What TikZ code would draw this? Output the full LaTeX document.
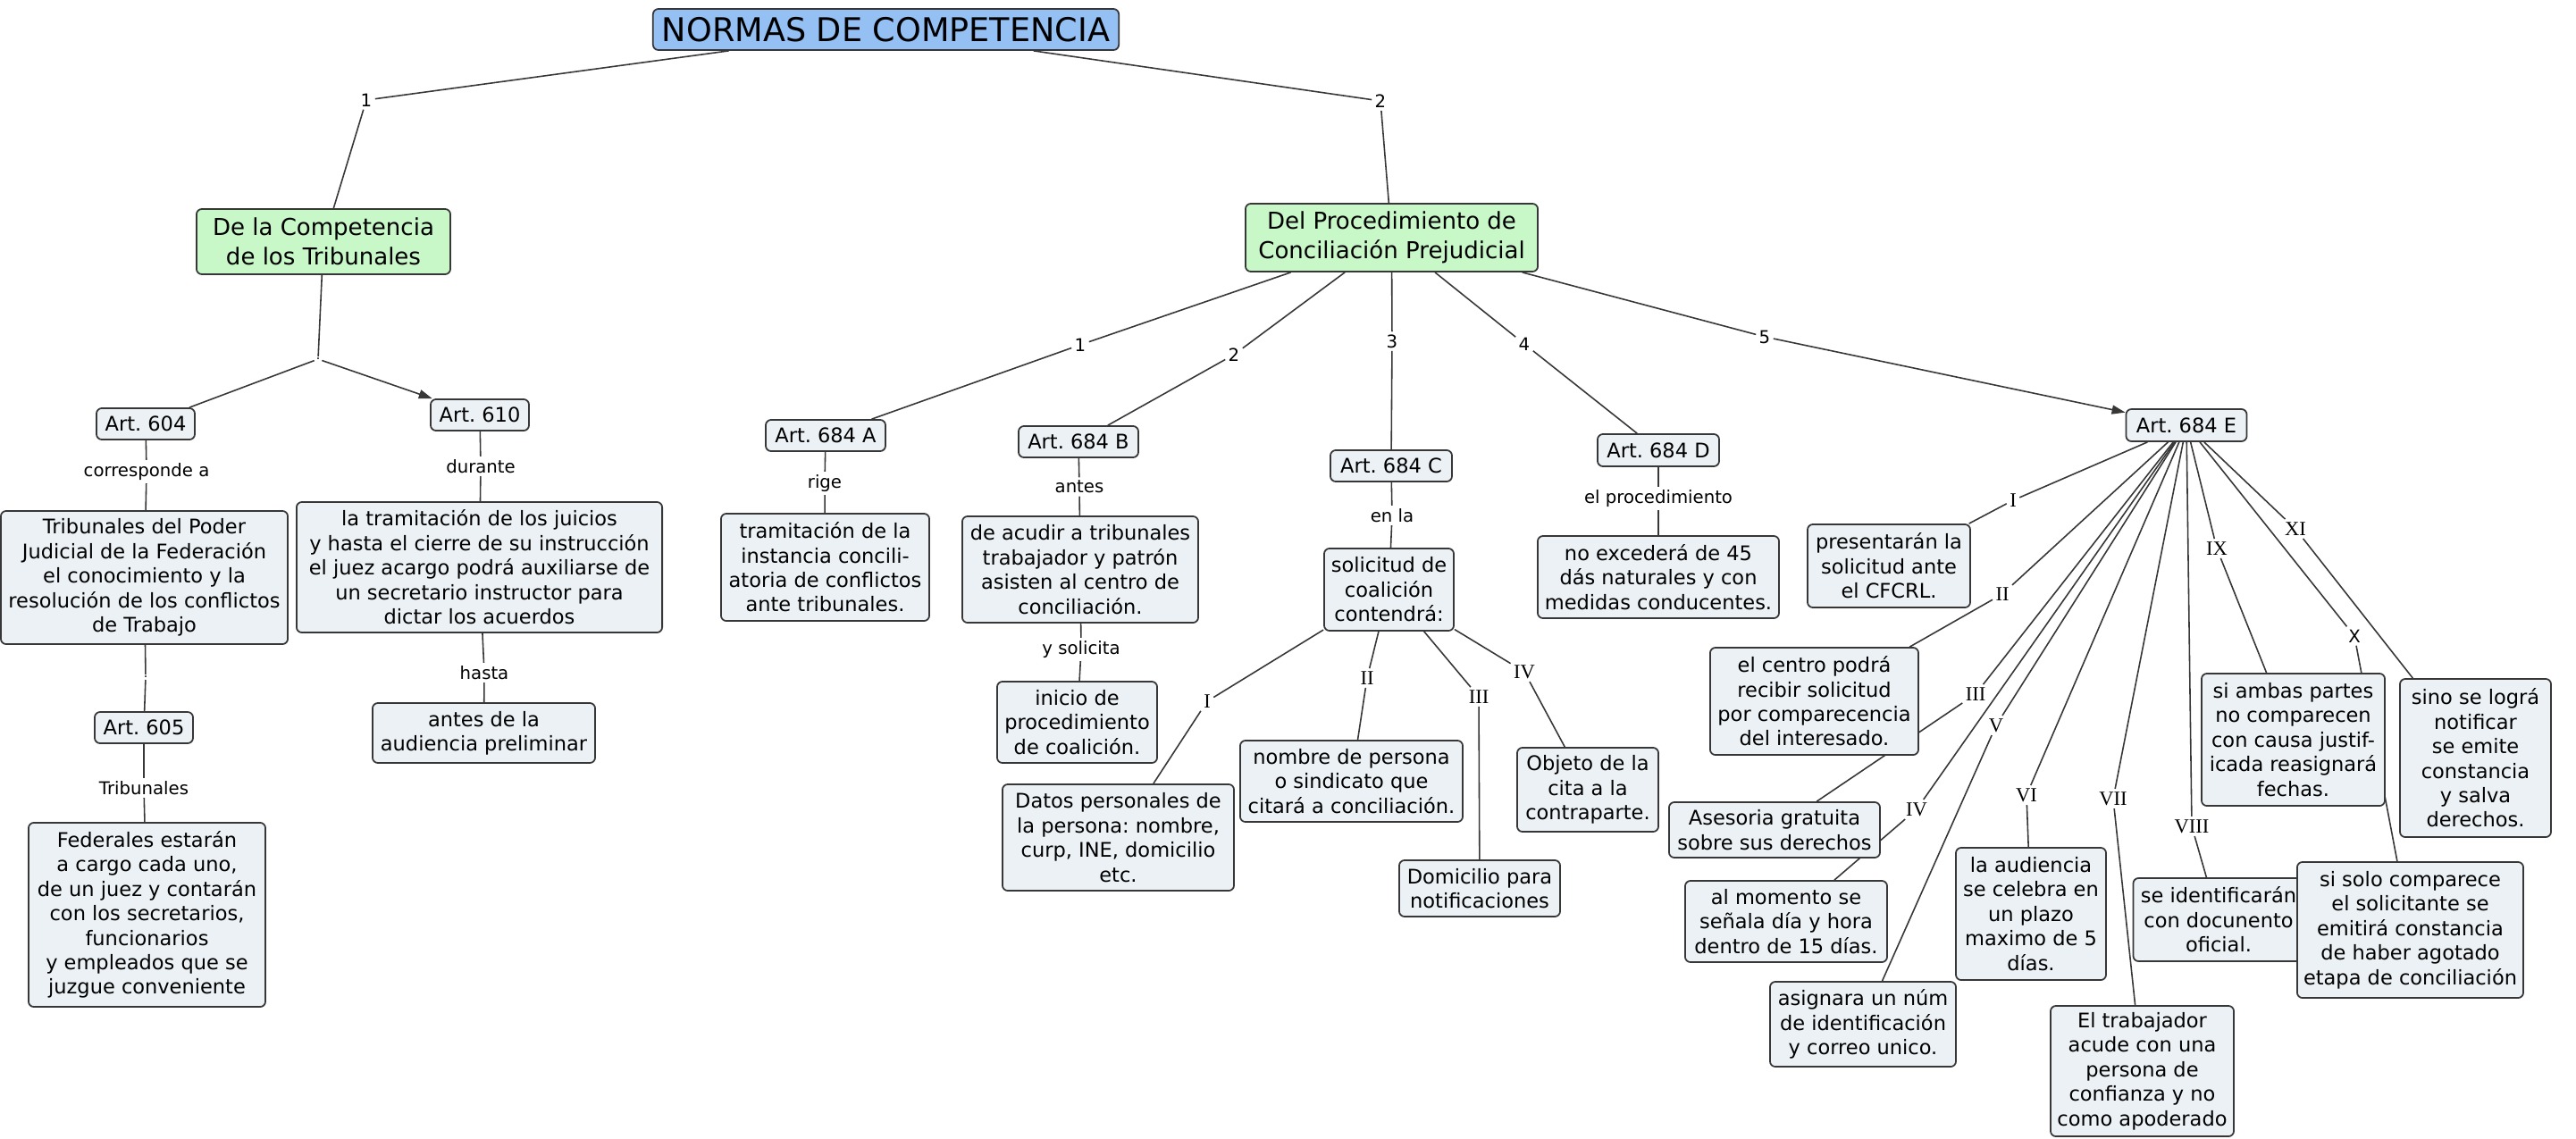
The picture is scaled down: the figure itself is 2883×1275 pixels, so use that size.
\documentclass[tikz,border=0pt]{standalone}
\usepackage{fontspec}
\setmainfont{DejaVu Sans}
\newfontfamily\romfont{Liberation Serif}
\usepackage{tikz}
\usetikzlibrary{arrows.meta}
\frenchspacing

\pgfdeclarelayer{bg}
\pgfsetlayers{bg,main}

\definecolor{cbox}{RGB}{235,241,244}
\definecolor{ctitle}{RGB}{148,192,244}
\definecolor{cgreen}{RGB}{200,247,200}
\definecolor{cline}{RGB}{55,55,55}

\tikzset{
  box/.style={draw=cline, fill=cbox, rounded corners=0.06cm, line width=0.5pt,
    align=center, inner sep=1pt, font=\fontsize{6.4}{7.8}\selectfont},
  titlebox/.style={box, fill=ctitle, font=\fontsize{10.4}{12}\selectfont},
  greenbox/.style={box, fill=cgreen, font=\fontsize{7.4}{9.4}\selectfont},
  sz/.style 2 args={minimum width=#1cm, minimum height=#2cm},
  lbl/.style={inner sep=0.8pt, font=\fontsize{5.6}{6.8}\selectfont},
  rom/.style={inner sep=0.8pt, font=\romfont\fontsize{6.4}{7}\selectfont},
  jlbl/.style={inner sep=0.4pt, font=\fontsize{4}{4}\selectfont},
  link/.style={draw=cline, line width=0.45pt},
  arr/.style={-{Triangle[length=0.15cm,width=0.1cm]}}
}

\begin{document}
\begin{tikzpicture}[x=0.01cm, y=-0.01cm]
    \useasboundingbox (0,0) rectangle (2883,1275);

    % main concepts
    \node[titlebox, sz={5.21}{0.46}] (norm) at (991.5,33) {NORMAS DE COMPETENCIA};
    \node[greenbox, sz={2.84}{0.73}] (comp) at (362,270.5) {De la Competencia\\de los Tribunales};
    \node[greenbox, sz={3.27}{0.76}] (proc) at (1557.5,266) {Del Procedimiento de\\Conciliación Prejudicial};

    % left branch
    \node[box, sz={1.10}{0.35}] (a604) at (163,474.5) {Art. 604};
    \node[box, sz={1.10}{0.35}] (a610) at (537,464.5) {Art. 610};
    \node[box, sz={3.21}{1.49}] (trib) at (161.5,646.5) {Tribunales del Poder\\Judicial de la Federación\\el conocimiento y la\\resolución de los conflictos\\de Trabajo};
    \node[box, sz={1.10}{0.35}] (a605) at (161,814.5) {Art. 605};
    \node[box, sz={2.65}{2.06}] (fed) at (164.5,1024) {Federales estarán\\a cargo cada uno,\\de un juez y contarán\\con los secretarios,\\funcionarios\\y empleados que se\\juzgue conveniente};
    \node[box, sz={4.09}{1.46}] (juic) at (536.5,635) {la tramitación de los juicios\\y hasta el cierre de su instrucción\\el juez acargo podrá auxiliarse de\\un secretario instructor para\\dictar los acuerdos};
    \node[box, sz={2.49}{0.67}] (prel) at (541.5,820.5) {antes de la\\audiencia preliminar};

    % right branch
    \node[box, sz={1.34}{0.35}] (a684a) at (924,487.5) {Art. 684 A};
    \node[box, sz={2.33}{1.20}] (inst) at (923.5,635) {tramitación de la\\instancia concili-\\atoria de conflictos\\ante tribunales.};
    \node[box, sz={1.34}{0.35}] (a684b) at (1207,494.5) {Art. 684 B};
    \node[box, sz={2.64}{1.19}] (acud) at (1209,637.5) {de acudir a tribunales\\trabajador y patrón\\asisten al centro de\\conciliación.};
    \node[box, sz={1.79}{0.91}] (inic) at (1205.5,808.5) {inicio de\\procedimiento\\de coalición.};
    \node[box, sz={1.36}{0.35}] (a684c) at (1557,521.5) {Art. 684 C};
    \node[box, sz={1.45}{0.92}] (soli) at (1554.5,660) {solicitud de\\coalición\\contendrá:};
    \node[box, sz={2.59}{1.19}] (dato) at (1251.5,937.5) {Datos personales de\\la persona: nombre,\\curp, INE, domicilio\\etc.};
    \node[box, sz={2.49}{0.91}] (nomb) at (1512.5,874.5) {nombre de persona\\o sindicato que\\citará a conciliación.};
    \node[box, sz={1.80}{0.63}] (domi) at (1656,994.5) {Domicilio para\\notificaciones};
    \node[box, sz={1.58}{0.94}] (obje) at (1777,884) {Objeto de la\\cita a la\\contraparte.};
    \node[box, sz={1.36}{0.36}] (a684d) at (1856,504) {Art. 684 D};
    \node[box, sz={2.70}{0.92}] (plaz) at (1856,646) {no excederá de 45\\dás naturales y con\\medidas conducentes.};
    \node[box, sz={1.35}{0.36}] (a684e) at (2447,476) {Art. 684 E};
    \node[box, sz={1.82}{0.93}] (pres) at (2114,633.5) {presentarán la\\solicitud ante\\el CFCRL.};
    \node[box, sz={2.33}{1.20}] (cent) at (2030.5,785) {el centro podrá\\recibir solicitud\\por comparecencia\\del interesado.};
    \node[box, sz={2.36}{0.62}] (ases) at (1986,929) {Asesoria gratuita\\sobre sus derechos};
    \node[box, sz={2.26}{0.91}] (mome) at (1999,1031.5) {al momento se\\señala día y hora\\dentro de 15 días.};
    \node[box, sz={2.08}{0.95}] (asig) at (2085,1146.5) {asignara un núm\\de identificación\\y correo unico.};
    \node[box, sz={1.68}{1.48}] (audi) at (2273,1023) {la audiencia\\se celebra en\\un plazo\\maximo de 5\\días.};
    \node[box, sz={2.05}{1.46}] (trab) at (2397.5,1199) {El trabajador\\acude con una\\persona de\\confianza y no\\como apoderado};
    \node[box, sz={1.91}{0.93}] (iden) at (2483,1029.5) {se identificarán\\con docunento\\oficial.};
    \node[box, sz={2.05}{1.48}] (amba) at (2566.5,828) {si ambas partes\\no comparecen\\con causa justif-\\icada reasignará\\fechas.};
    \node[box, sz={2.53}{1.52}] (solo) at (2697.5,1041) {si solo comparece\\el solicitante se\\emitirá constancia\\de haber agotado\\etapa de conciliación};
    \node[box, sz={1.69}{1.77}] (sino) at (2770.5,848.5) {sino se lográ\\notificar\\se emite\\constancia\\y salva\\derechos.};

    % link phrases
    \node[lbl] (l1) at (410,112) {1};
    \node[lbl] (l2) at (1545,113) {2};
    \node[jlbl] (j1) at (356,402) {.};
    \node[lbl] (corr) at (164,528) {corresponde a};
    \node[jlbl] (j2) at (163,758) {.};
    \node[lbl] (trl) at (161,882) {Tribunales};
    \node[lbl] (dura) at (538,522) {durante};
    \node[lbl] (hast) at (542,753) {hasta};
    \node[lbl] (p1) at (1209,386) {1};
    \node[lbl] (p2) at (1381,397) {2};
    \node[lbl] (p3) at (1558,382) {3};
    \node[lbl] (p4) at (1706,385) {4};
    \node[lbl] (p5) at (1975,377) {5};
    \node[lbl] (rige) at (923,541) {rige};
    \node[lbl] (ante) at (1208,545) {antes};
    \node[lbl] (ysol) at (1210,727) {y solicita};
    \node[lbl] (enla) at (1558,577) {en la};
    \node[lbl] (elpr) at (1856,558) {el procedimiento};
    \node[rom] (c1) at (1351,785) {I};
    \node[rom] (c2) at (1530,759) {II};
    \node[rom] (c3) at (1655,780) {III};
    \node[rom] (c4) at (1706,752) {IV};
    \node[rom] (e1) at (2253,560) {I};
    \node[rom] (e2) at (2241,665) {II};
    \node[rom] (e3) at (2211,777) {III};
    \node[rom] (e4) at (2145,906) {IV};
    \node[rom] (e5) at (2234,812) {V};
    \node[rom] (e6) at (2268,890) {VI};
    \node[rom] (e7) at (2365,894) {VII};
    \node[rom] (e8) at (2453,925) {VIII};
    \node[rom] (e9) at (2481,614) {IX};
    \node[lbl] (e10) at (2635,712) {X};
    \node[rom] (e11) at (2569,592) {XI};

    % connectors
    \begin{pgfonlayer}{bg}
    \draw[link] (norm) -- (l1) -- (comp);
    \draw[link] (norm) -- (l2) -- (proc);
    \draw[link] (comp) -- (j1) -- (a604);
    \draw[link, arr] (j1) -- (a610);
    \draw[link] (a604) -- (corr) -- (trib) -- (j2) -- (a605) -- (trl) -- (fed);
    \draw[link] (a610) -- (dura) -- (juic) -- (hast) -- (prel);
    \draw[link] (proc) -- (p1) -- (a684a) -- (rige) -- (inst);
    \draw[link] (proc) -- (p2) -- (a684b) -- (ante) -- (acud) -- (ysol) -- (inic);
    \draw[link] (proc) -- (p3) -- (a684c) -- (enla) -- (soli);
    \draw[link] (proc) -- (p4) -- (a684d) -- (elpr) -- (plaz);
    \draw[link, arr] (proc) -- (p5) -- (a684e);
    \draw[link] (soli) -- (c1) -- (dato);
    \draw[link] (soli) -- (c2) -- (nomb);
    \draw[link] (soli) -- (c3) -- (domi);
    \draw[link] (soli) -- (c4) -- (obje);
    \draw[link] (a684e) -- (e1) -- (pres);
    \draw[link] (a684e) -- (e2) -- (cent);
    \draw[link] (a684e) -- (e3) -- (ases);
    \draw[link] (a684e) -- (e4) -- (mome);
    \draw[link] (a684e) -- (e5) -- (asig);
    \draw[link] (a684e) -- (e6) -- (audi);
    \draw[link] (a684e) -- (e7) -- (trab);
    \draw[link] (a684e) -- (e8) -- (iden);
    \draw[link] (a684e) -- (e9) -- (amba);
    \draw[link] (a684e) -- (e10) -- (solo);
    \draw[link] (a684e) -- (e11) -- (sino);
    \end{pgfonlayer}
\end{tikzpicture}
\end{document}
